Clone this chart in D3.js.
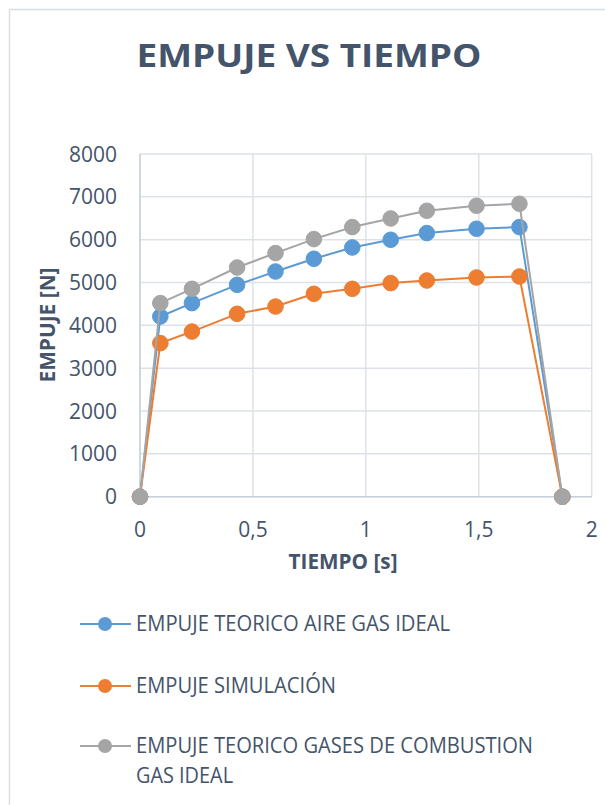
<!DOCTYPE html>
<html><head><meta charset="utf-8">
<script src="https://cdn.jsdelivr.net/npm/d3@7"></script>
<style>body{margin:0;background:#fff;} svg{display:block;}</style>
</head><body>
<script>
const tiempo = [0, 0.09, 0.23, 0.43, 0.60, 0.77, 0.94, 1.11, 1.27, 1.49, 1.68, 1.87];
const empujeAire = [0, 4206, 4519, 4946, 5257, 5554, 5818, 5998, 6154, 6255, 6294, 0];
const empujeSimulacion = [0, 3584, 3855, 4269, 4439, 4736, 4853, 4986, 5047, 5117, 5140, 0];
const empujeCombustion = [0, 4519, 4853, 5350, 5687, 6014, 6294, 6495, 6675, 6792, 6839, 0];
const seriesNames = ["EMPUJE TEORICO AIRE GAS IDEAL", "EMPUJE SIMULACIÓN", "EMPUJE TEORICO GASES DE COMBUSTION GAS IDEAL"];
const xTicks = [0, 0.5, 1, 1.5, 2];
const xTickLabels = ["0", "0,5", "1", "1,5", "2"];
const yTicks = [0, 1000, 2000, 3000, 4000, 5000, 6000, 7000, 8000];
const title = "EMPUJE VS TIEMPO";
const xTitle = "TIEMPO [s]";
const yTitle = "EMPUJE [N]";

const colors = ["#5B9BD5", "#ED7D31", "#A5A5A5"];
const textColor = "#44546A";
const font = "'Open Sans', sans-serif";

const W = 605, H = 805;
const svg = d3.select("body").append("svg").attr("width", W).attr("height", H);

svg.append("rect").attr("x", 9.5).attr("y", 9.5).attr("width", W + 20).attr("height", H + 20)
  .attr("fill", "#fff").attr("stroke", "#D9DEE6").attr("stroke-width", 1.5);

const x = d3.scaleLinear().domain([0, 2]).range([140, 591.7]);
const y = d3.scaleLinear().domain([0, 8000]).range([496.7, 154]);

// gridlines
const g = svg.append("g");
g.selectAll(".hg").data(yTicks).join("line")
  .attr("x1", x(0)).attr("x2", x(2)).attr("y1", d => y(d)).attr("y2", d => y(d))
  .attr("stroke", "#DDE2E9").attr("stroke-width", 1.5);
g.selectAll(".vg").data(xTicks).join("line")
  .attr("y1", y(0)).attr("y2", y(8000)).attr("x1", d => x(d)).attr("x2", d => x(d))
  .attr("stroke", "#DDE2E9").attr("stroke-width", 1.5);
// axis lines
g.append("line").attr("x1", x(0)).attr("x2", x(2)).attr("y1", y(0)).attr("y2", y(0))
  .attr("stroke", "#C9D0DB").attr("stroke-width", 1.5);
g.append("line").attr("x1", x(0)).attr("x2", x(0)).attr("y1", y(0)).attr("y2", y(8000))
  .attr("stroke", "#C9D0DB").attr("stroke-width", 1.5);

// y tick labels
svg.selectAll(".yt").data(yTicks).join("text")
  .attr("x", 117).attr("y", d => y(d) + 7.5).attr("text-anchor", "end")
  .attr("font-family", font).attr("font-size", 21).attr("fill", textColor)
  .text(d => d);
// x tick labels
svg.selectAll(".xt").data(xTicks).join("text")
  .attr("x", d => x(d)).attr("y", 537).attr("text-anchor", "middle")
  .attr("font-family", font).attr("font-size", 21).attr("fill", textColor)
  .text((d, i) => xTickLabels[i]);

// titles
svg.append("text").attr("x", 309).attr("y", 67).attr("text-anchor", "middle")
  .attr("font-family", font).attr("font-weight", "bold").attr("font-size", 33)
  .attr("fill", textColor).attr("textLength", 345).attr("lengthAdjust", "spacingAndGlyphs").text(title);
svg.append("text").attr("x", 343).attr("y", 569).attr("text-anchor", "middle")
  .attr("font-family", font).attr("font-weight", "bold").attr("font-size", 21)
  .attr("fill", textColor).attr("textLength", 109).attr("lengthAdjust", "spacingAndGlyphs").text(xTitle);
svg.append("text").attr("transform", "translate(55,325) rotate(-90)").attr("text-anchor", "middle")
  .attr("font-family", font).attr("font-weight", "bold").attr("font-size", 22)
  .attr("fill", textColor).attr("textLength", 115).attr("lengthAdjust", "spacingAndGlyphs").text(yTitle);

// series
const allSeries = [empujeAire, empujeSimulacion, empujeCombustion];
const line = d3.line().x(d => x(d[0])).y(d => y(d[1]));
allSeries.forEach((vals, si) => {
  const pts = tiempo.map((t, i) => [t, vals[i]]);
  const sg = svg.append("g");
  sg.append("path").attr("d", line(pts)).attr("fill", "none")
    .attr("stroke", colors[si]).attr("stroke-width", 2).attr("stroke-linejoin", "round");
  sg.selectAll("circle").data(pts).join("circle")
    .attr("cx", d => x(d[0])).attr("cy", d => y(d[1])).attr("r", 7.8)
    .attr("fill", colors[si]).attr("stroke", colors[si]).attr("stroke-width", 1);
});

// legend
const legRows = [
  {si: 0, lines: [seriesNames[0]], y: 631, widths: [314]},
  {si: 1, lines: [seriesNames[1]], y: 693, widths: [200]},
  {si: 2, lines: ["EMPUJE TEORICO GASES DE COMBUSTION", "GAS IDEAL"], y: 753, widths: [397, 97]}
];
legRows.forEach(r => {
  const cy = r.y - 7;
  svg.append("line").attr("x1", 80).attr("x2", 131).attr("y1", cy).attr("y2", cy)
    .attr("stroke", colors[r.si]).attr("stroke-width", 2);
  svg.append("circle").attr("cx", 105).attr("cy", cy).attr("r", 7).attr("fill", colors[r.si]);
  r.lines.forEach((t, li) => {
    svg.append("text").attr("x", 136).attr("y", r.y + li * 30)
      .attr("font-family", font).attr("font-size", 21).attr("fill", textColor)
      .attr("textLength", r.widths[li]).attr("lengthAdjust", "spacingAndGlyphs").text(t);
  });
});
</script>
</body></html>
